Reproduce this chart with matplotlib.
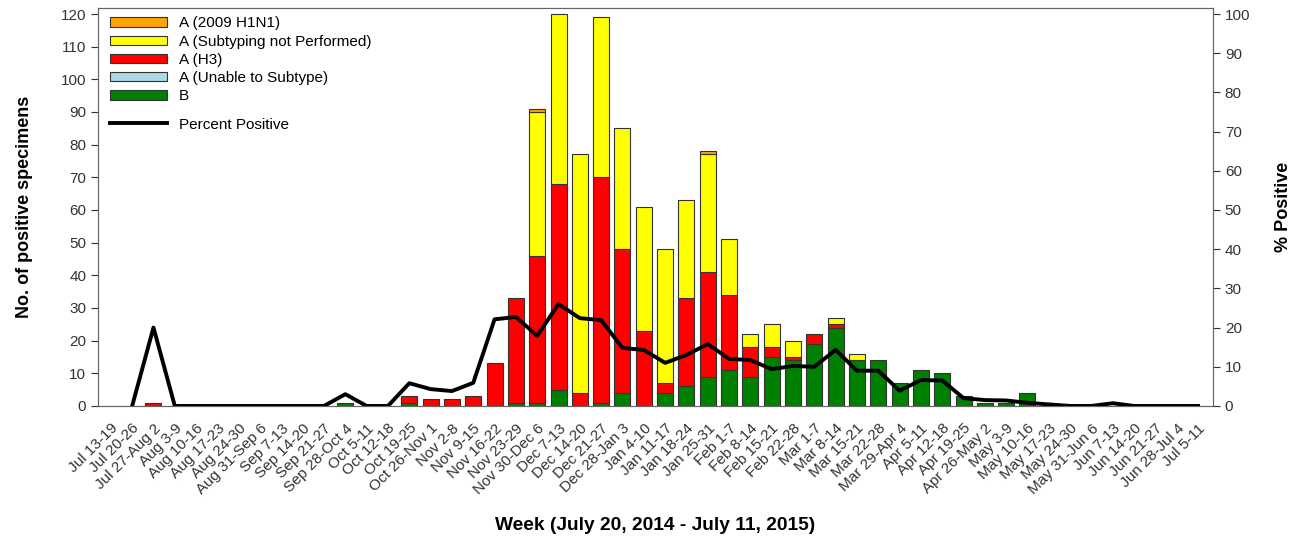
import matplotlib.pyplot as plt
import numpy as np
from matplotlib.patches import Patch
from matplotlib.lines import Line2D

plt.rcParams['font.family'] = ['Liberation Sans', 'DejaVu Sans']

weeks = ['Jul 13-19', 'Jul 20-26', 'Jul 27-Aug 2', 'Aug 3-9', 'Aug 10-16', 'Aug 17-23',
         'Aug 24-30', 'Aug 31-Sep 6', 'Sep 7-13', 'Sep 14-20', 'Sep 21-27', 'Sep 28-Oct 4',
         'Oct 5-11', 'Oct 12-18', 'Oct 19-25', 'Oct 26-Nov 1', 'Nov 2-8', 'Nov 9-15',
         'Nov 16-22', 'Nov 23-29', 'Nov 30-Dec 6', 'Dec 7-13', 'Dec 14-20', 'Dec 21-27',
         'Dec 28-Jan 3', 'Jan 4-10', 'Jan 11-17', 'Jan 18-24', 'Jan 25-31', 'Feb 1-7',
         'Feb 8-14', 'Feb 15-21', 'Feb 22-28', 'Mar 1-7', 'Mar 8-14', 'Mar 15-21',
         'Mar 22-28', 'Mar 29-Apr 4', 'Apr 5-11', 'Apr 12-18', 'Apr 19-25', 'Apr 26-May 2',
         'May 3-9', 'May 10-16', 'May 17-23', 'May 24-30', 'May 31-Jun 6', 'Jun 7-13',
         'Jun 14-20', 'Jun 21-27', 'Jun 28-Jul 4', 'Jul 5-11']

# counts per week (52 weeks)
flu_b = [0, 0, 0, 0, 0, 0, 0, 0, 0, 0, 0, 1, 0, 0, 1, 0, 0, 0,
         0, 1, 1, 5, 0, 1, 4, 0, 4, 6, 9, 11, 9, 15, 14, 19, 24, 14,
         14, 7, 11, 10, 3, 1, 1, 4, 0, 0, 0, 0, 0, 0, 0, 0]
a_unable = [0] * 52
a_h3 = [0, 0, 1, 0, 0, 0, 0, 0, 0, 0, 0, 0, 0, 0, 2, 2, 2, 3,
        13, 32, 45, 63, 4, 69, 44, 23, 3, 27, 32, 23, 9, 3, 1, 3, 1, 0,
        0, 0, 0, 0, 0, 0, 0, 0, 0, 0, 0, 0, 0, 0, 0, 0]
a_not_subtyped = [0, 0, 0, 0, 0, 0, 0, 0, 0, 0, 0, 0, 0, 0, 0, 0, 0, 0,
                  0, 0, 44, 52, 73, 49, 37, 38, 41, 30, 36, 17, 4, 7, 5, 0, 2, 2,
                  0, 0, 0, 0, 0, 0, 0, 0, 0, 0, 0, 0, 0, 0, 0, 0]
a_h1n1 = [0] * 20 + [1] + [0] * 7 + [1] + [0] * 23

pct_positive = [np.nan, 0, 20, 0, 0, 0, 0, 0, 0, 0, 0, 3, 0, 0, 5.8, 4.3, 3.8, 5.9,
                22.1, 22.7, 17.9, 26, 22.4, 21.9, 14.8, 14.3, 11, 13, 15.8, 12, 11.7, 9.4,
                10.2, 10, 14.3, 9, 9, 3.9, 6.6, 6.5, 2, 1.5, 1.4, 0.8, 0.4, 0, 0, 0.7,
                0, 0, 0, 0]

x = np.arange(len(weeks))
series = [
    ('B', flu_b, '#008000'),
    ('A (Unable to Subtype)', a_unable, '#ADD8E6'),
    ('A (H3)', a_h3, '#FF0000'),
    ('A (Subtyping not Performed)', a_not_subtyped, '#FFFF00'),
    ('A (2009 H1N1)', a_h1n1, '#FFA500'),
]

fig = plt.figure(figsize=(12.97, 5.42), dpi=100)
ax = fig.add_axes([0.0756, 0.251, 0.8596, 0.734])

bottom = np.zeros(len(weeks))
for name, vals, col in series:
    vals = np.array(vals, dtype=float)
    nz = vals > 0  # zero weeks get no bar outline
    ax.bar(x[nz], vals[nz], bottom=bottom[nz], width=0.75, color=col,
           edgecolor='#333333', linewidth=0.8, zorder=2)
    bottom += vals

ax.set_xlim(-0.6, 51.7)
ax.set_ylim(0, 121.8)
ax.set_yticks(np.arange(0, 121, 10))
ax.set_xticks(x)
ax.set_xticklabels(weeks, rotation=45, ha='right', rotation_mode='anchor', fontsize=11, color='#333333')
ax.tick_params(axis='x', length=0, pad=11)
ax.tick_params(axis='y', direction='out', length=5, labelsize=11, colors='#333333')
ax.set_ylabel('No. of positive specimens', fontsize=13, fontweight='bold', labelpad=20)
ax.set_xlabel('Week (July 20, 2014 - July 11, 2015)', fontsize=13.8, fontweight='bold', labelpad=14)
for s in ax.spines.values():
    s.set_color('#666666')

ax2 = ax.twinx()
ax2.plot(x, pct_positive, color='black', linewidth=2.8, zorder=3)
ax2.set_ylim(0, 101.5)
ax2.set_yticks(np.arange(0, 101, 10))
ax2.tick_params(axis='y', direction='out', length=5, labelsize=11, colors='#333333')
ax2.set_ylabel('% Positive', fontsize=13, fontweight='bold', labelpad=18)
for s in ax2.spines.values():
    s.set_color('#666666')

# legend: bars first, then line set a bit lower
bar_handles = [Patch(facecolor=col, edgecolor='#333333', linewidth=0.8, label=name)
               for name, _, col in reversed(series)]
leg1 = ax2.legend(handles=bar_handles, loc='upper left', bbox_to_anchor=(0.0, 1.01),
                  frameon=False, fontsize=11, handlelength=3.7, handleheight=0.55,
                  labelspacing=0.28, borderaxespad=0.4, handletextpad=0.8)
ax2.add_artist(leg1)
ax2.legend(handles=[Line2D([], [], color='black', linewidth=2.8, label='Percent Positive')],
           loc='upper left', bbox_to_anchor=(0.0, 0.755), frameon=False, fontsize=11,
           handlelength=3.7, borderaxespad=0.4, handletextpad=0.8)

fig.savefig('out.png', dpi=100)
